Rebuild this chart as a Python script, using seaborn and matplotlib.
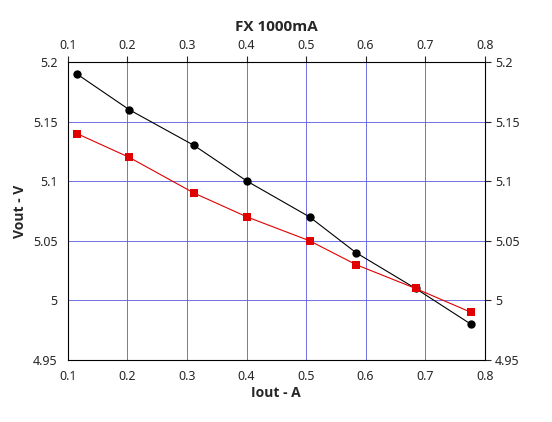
import matplotlib
matplotlib.use("Agg")
import matplotlib.pyplot as plt
import pandas as pd
import seaborn as sns

iout = [0.115, 0.203, 0.312, 0.401, 0.506, 0.584, 0.684, 0.777]
vout_black = [5.19, 5.16, 5.13, 5.10, 5.07, 5.04, 5.01, 4.98]
vout_red = [5.14, 5.12, 5.09, 5.07, 5.05, 5.03, 5.01, 4.99]

sns.set_style("white")
plt.rcParams["font.family"] = ["Noto Sans", "DejaVu Sans"]
bold_font = ["Open Sans", "DejaVu Sans"]

df = pd.DataFrame({"iout": iout, "black": vout_black, "red": vout_red})

fig, ax = plt.subplots(figsize=(5.52, 4.22), dpi=100)
fig.subplots_adjust(left=0.123, right=0.878, top=0.853, bottom=0.147)

sns.lineplot(data=df, x="iout", y="black", color="black", marker="o",
             markersize=6, markeredgewidth=0, linewidth=0.8, ax=ax, zorder=3)
sns.lineplot(data=df, x="iout", y="red", color="#e00000", marker="s",
             markersize=6, markeredgewidth=0, linewidth=0.8, ax=ax, zorder=4)

ax.set_xlim(0.1, 0.8)
ax.set_ylim(4.95, 5.2)
xt = [0.1, 0.2, 0.3, 0.4, 0.5, 0.6, 0.7, 0.8]
yt = [4.95, 5.0, 5.05, 5.1, 5.15, 5.2]
ax.set_xticks(xt)
ax.set_yticks(yt)
ax.set_xticklabels([f"{v:g}" for v in xt])
ax.set_yticklabels([f"{v:g}" for v in yt])
ax.grid(True, color="#5a5ae0", linewidth=0.6)
ax.tick_params(axis="both", direction="out", length=4, labelsize=9,
               top=True, right=True, labeltop=True, labelright=True)
for s in ax.spines.values():
    s.set_color("black")
    s.set_linewidth(0.8)

ax.set_xlabel("Iout - A", fontsize=10, fontweight="bold", family=bold_font, labelpad=2)
ax.set_ylabel("Vout - V", fontsize=10, fontweight="bold", family=bold_font)
ax.set_title("FX 1000mA", fontsize=11, fontweight="bold", family=bold_font, pad=22)

fig.savefig("out.png", dpi=100)
